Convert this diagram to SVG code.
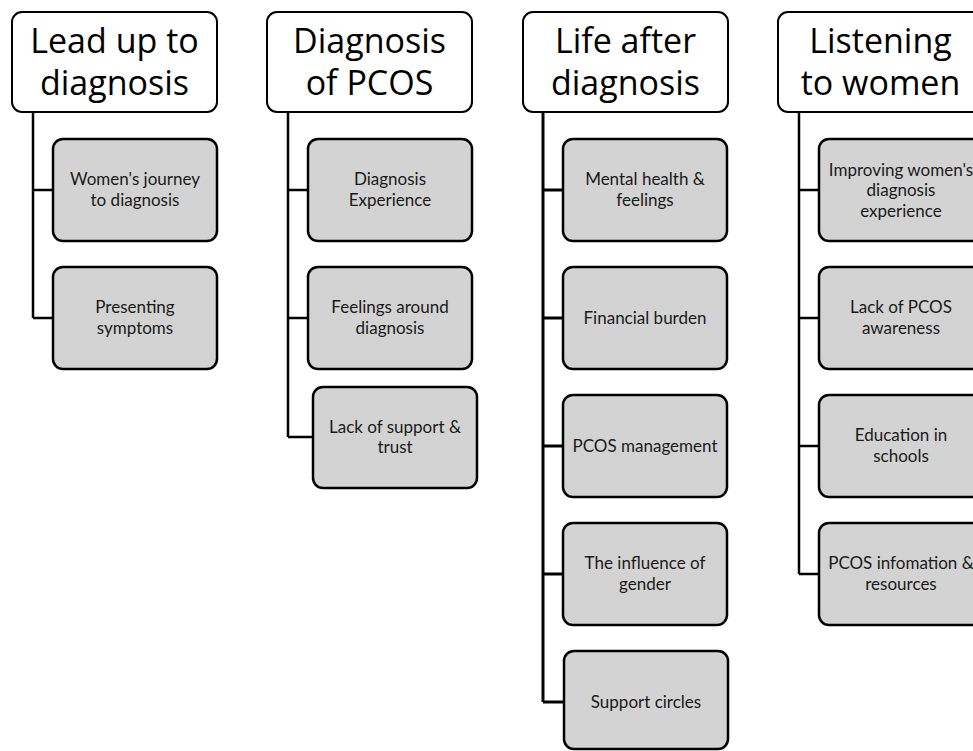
<svg xmlns="http://www.w3.org/2000/svg" width="973" height="751" viewBox="0 0 973 751">
<style>
.hdr{fill:#fff;stroke:#000;stroke-width:2}
.hdr-t{font-family:"Open Sans","Lato",sans-serif;font-size:34px;fill:#000;text-anchor:middle}
.box{fill:#d3d3d3;stroke:#000;stroke-width:2.5}
.box-t{font-family:"Lato","Open Sans",sans-serif;font-size:17px;fill:#1a1a1a;text-anchor:middle}
.con{fill:none;stroke:#000;stroke-width:2.5}
</style>
<rect width="973" height="751" fill="#fff"/>
<g id="connectors">
<path class="con" d="M33 112 V318 M33 190 H53 M33 318 H53"/>
<path class="con" d="M288 112 V437 M288 190 H308 M288 318 H308 M288 437 H313"/>
<path class="con" style="stroke-width:3" d="M543 112 V702 M543 190 H563 M543 318 H563 M543 446 H563 M543 574 H563 M543 702 H563"/>
<path class="con" d="M799 112 V574 M799 190 H819 M799 318 H819 M799 446 H819 M799 574 H819"/>
</g>
<g id="h1"><rect class="hdr" x="12" y="12" width="205" height="100" rx="10"/><text class="hdr-t" x="114.5" y="53">Lead up to</text><text class="hdr-t" x="114.5" y="95">diagnosis</text></g>
<g id="h2"><rect class="hdr" x="267" y="12" width="205" height="100" rx="10"/><text class="hdr-t" x="369.5" y="53">Diagnosis</text><text class="hdr-t" x="369.5" y="95">of PCOS</text></g>
<g id="h3"><rect class="hdr" x="523" y="12" width="205" height="100" rx="10"/><text class="hdr-t" x="625.5" y="53">Life after</text><text class="hdr-t" x="625.5" y="95">diagnosis</text></g>
<g id="h4"><rect class="hdr" x="778" y="12" width="205" height="100" rx="10"/><text class="hdr-t" x="880.5" y="53">Listening</text><text class="hdr-t" x="880.5" y="95">to women</text></g>

<g id="c1a"><rect class="box" x="53" y="139" width="164" height="102" rx="10"/><text class="box-t" x="135" y="185">Women's journey</text><text class="box-t" x="135" y="205.5">to diagnosis</text></g>
<g id="c1b"><rect class="box" x="53" y="267" width="164" height="102" rx="10"/><text class="box-t" x="135" y="313">Presenting</text><text class="box-t" x="135" y="333.5">symptoms</text></g>

<g id="c2a"><rect class="box" x="308" y="139" width="164" height="102" rx="10"/><text class="box-t" x="390" y="185">Diagnosis</text><text class="box-t" x="390" y="205.5">Experience</text></g>
<g id="c2b"><rect class="box" x="308" y="267" width="164" height="102" rx="10"/><text class="box-t" x="390" y="313">Feelings around</text><text class="box-t" x="390" y="333.5">diagnosis</text></g>
<g id="c2c"><rect class="box" x="313" y="387" width="164" height="101" rx="10"/><text class="box-t" x="395" y="432.5">Lack of support &amp;</text><text class="box-t" x="395" y="453">trust</text></g>

<g id="c3a"><rect class="box" x="563" y="139" width="164" height="102" rx="10"/><text class="box-t" x="645" y="185">Mental health &amp;</text><text class="box-t" x="645" y="205.5">feelings</text></g>
<g id="c3b"><rect class="box" x="563" y="267" width="164" height="102" rx="10"/><text class="box-t" x="645" y="323.5">Financial burden</text></g>
<g id="c3c"><rect class="box" x="563" y="395" width="164" height="102" rx="10"/><text class="box-t" x="645" y="451.5">PCOS management</text></g>
<g id="c3d"><rect class="box" x="563" y="523" width="164" height="102" rx="10"/><text class="box-t" x="645" y="569">The influence of</text><text class="box-t" x="645" y="589.5">gender</text></g>
<g id="c3e"><rect class="box" x="564" y="651" width="164" height="98" rx="10"/><text class="box-t" x="646" y="707.5">Support circles</text></g>

<g id="c4a"><rect class="box" x="819" y="139" width="164" height="102" rx="10"/><text class="box-t" x="901" y="175.5">Improving women's</text><text class="box-t" x="901" y="196">diagnosis</text><text class="box-t" x="901" y="216.5">experience</text></g>
<g id="c4b"><rect class="box" x="819" y="267" width="164" height="102" rx="10"/><text class="box-t" x="901" y="313">Lack of PCOS</text><text class="box-t" x="901" y="333.5">awareness</text></g>
<g id="c4c"><rect class="box" x="819" y="395" width="164" height="102" rx="10"/><text class="box-t" x="901" y="441">Education in</text><text class="box-t" x="901" y="461.5">schools</text></g>
<g id="c4d"><rect class="box" x="819" y="523" width="164" height="102" rx="10"/><text class="box-t" x="901" y="569">PCOS infomation &amp;</text><text class="box-t" x="901" y="589.5">resources</text></g>
</svg>
